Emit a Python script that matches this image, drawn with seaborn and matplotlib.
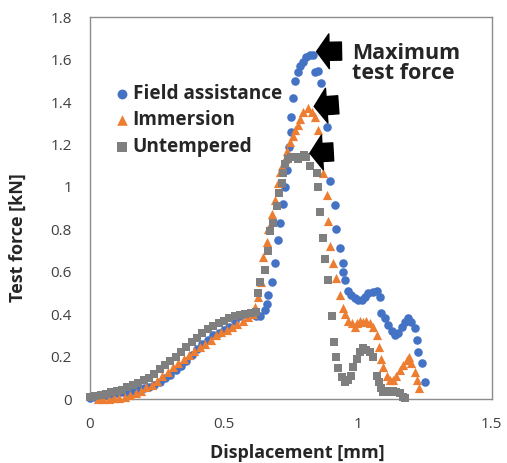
import matplotlib
matplotlib.use('Agg')
import matplotlib.pyplot as plt
import seaborn as sns
import pandas as pd

# ── data (displacement [mm], test force [kN]) ─────────────────────────────────
fa_x = [0.00, 0.02, 0.04, 0.06, 0.08, 0.10, 0.12, 0.14, 0.16, 0.18,
        0.20, 0.22, 0.24, 0.26, 0.28, 0.30, 0.32, 0.34, 0.36, 0.38,
        0.40, 0.42, 0.44, 0.46, 0.48, 0.50, 0.52, 0.54, 0.56, 0.58,
        0.60, 0.62,
        0.634, 0.653, 0.660, 0.664, 0.679, 0.690, 0.701, 0.709, 0.720, 0.728,
        0.734, 0.743, 0.749, 0.749, 0.759, 0.765, 0.776, 0.784, 0.795, 0.808,
        0.821, 0.831, 0.840, 0.851, 0.861, 0.883, 0.896, 0.914, 0.920, 0.933,
        0.943, 0.943, 0.951, 0.964, 0.976, 0.989, 1.001, 1.014, 1.026, 1.038,
        1.056, 1.070, 1.082, 1.088, 1.101, 1.113, 1.126, 1.138, 1.149, 1.163,
        1.175, 1.187, 1.200, 1.213, 1.219, 1.225, 1.238, 1.250]
fa_y = [0.005, 0.01, 0.015, 0.02, 0.025, 0.03, 0.035, 0.035, 0.04, 0.045,
        0.05, 0.055, 0.065, 0.08, 0.10, 0.115, 0.135, 0.155, 0.18, 0.21,
        0.235, 0.26, 0.28, 0.30, 0.31, 0.325, 0.34, 0.37, 0.39, 0.40,
        0.40, 0.39,
        0.39, 0.42, 0.45, 0.49, 0.55, 0.64, 0.75, 0.83, 0.92, 1.00,
        1.08, 1.19, 1.26, 1.33, 1.42, 1.50, 1.54, 1.57, 1.59, 1.61,
        1.62, 1.62, 1.54, 1.545, 1.49, 1.28, 1.03, 0.915, 0.80, 0.71,
        0.64, 0.60, 0.56, 0.51, 0.49, 0.475, 0.467, 0.467, 0.48, 0.50,
        0.505, 0.51, 0.48, 0.405, 0.38, 0.35, 0.32, 0.30, 0.31, 0.34,
        0.365, 0.38, 0.365, 0.335, 0.28, 0.22, 0.17, 0.08]

im_x = [0.03, 0.05, 0.07, 0.09, 0.11, 0.13, 0.15, 0.17, 0.19, 0.21,
        0.23, 0.25, 0.27, 0.29, 0.31, 0.33, 0.35, 0.37, 0.39, 0.41,
        0.43, 0.45, 0.47, 0.49, 0.51, 0.53, 0.55, 0.57, 0.59, 0.61,
        0.616, 0.627, 0.640, 0.647, 0.659, 0.665, 0.678, 0.690, 0.703, 0.709,
        0.715, 0.728, 0.734, 0.746, 0.759, 0.765, 0.777, 0.784, 0.796, 0.815,
        0.827, 0.840, 0.852, 0.871, 0.883, 0.889, 0.896, 0.908, 0.920, 0.933,
        0.946, 0.952, 0.965, 0.978, 0.989, 0.995, 1.007, 1.020, 1.032, 1.045,
        1.057, 1.070, 1.080, 1.086, 1.094, 1.107, 1.119, 1.132, 1.144, 1.157,
        1.169, 1.182, 1.191, 1.200, 1.213, 1.219, 1.229]
im_y = [0.0, 0.0, 0.0, 0.005, 0.005, 0.01, 0.02, 0.03, 0.04, 0.055,
        0.066, 0.085, 0.11, 0.13, 0.15, 0.17, 0.19, 0.21, 0.225, 0.245,
        0.26, 0.28, 0.30, 0.315, 0.325, 0.34, 0.355, 0.37, 0.385, 0.40,
        0.435, 0.48, 0.55, 0.67, 0.74, 0.80, 0.87, 0.94, 1.02, 1.07,
        1.10, 1.13, 1.17, 1.21, 1.24, 1.27, 1.29, 1.32, 1.355, 1.37,
        1.355, 1.33, 1.27, 1.065, 0.96, 0.84, 0.72, 0.64, 0.57, 0.49,
        0.43, 0.40, 0.37, 0.36, 0.34, 0.36, 0.37, 0.365, 0.37, 0.36,
        0.34, 0.30, 0.245, 0.19, 0.15, 0.11, 0.09, 0.09, 0.11, 0.135,
        0.16, 0.185, 0.20, 0.17, 0.13, 0.09, 0.05]

un_x = [0.00, 0.02, 0.04, 0.06, 0.08, 0.10, 0.12, 0.14, 0.16, 0.18,
        0.20, 0.22, 0.24, 0.26, 0.28, 0.30, 0.32, 0.34, 0.36, 0.38,
        0.40, 0.42, 0.44, 0.46, 0.48, 0.50, 0.52, 0.54, 0.56, 0.58,
        0.60, 0.62,
        0.627, 0.634, 0.653, 0.664, 0.672, 0.683, 0.698, 0.705, 0.716, 0.720,
        0.728, 0.740, 0.751, 0.765, 0.776, 0.787, 0.798, 0.806, 0.820, 0.847,
        0.852, 0.858, 0.871, 0.877, 0.889, 0.902, 0.910, 0.918, 0.926, 0.939,
        0.951, 0.964, 0.976, 0.983, 0.995, 1.007, 1.020, 1.032, 1.045, 1.057,
        1.070, 1.080, 1.088, 1.094, 1.107, 1.119, 1.132, 1.144, 1.157, 1.169,
        1.175]
un_y = [0.01, 0.015, 0.02, 0.025, 0.035, 0.04, 0.045, 0.055, 0.065, 0.075,
        0.09, 0.10, 0.12, 0.14, 0.16, 0.18, 0.20, 0.22, 0.245, 0.27,
        0.29, 0.31, 0.33, 0.345, 0.36, 0.37, 0.38, 0.39, 0.395, 0.40,
        0.405, 0.41,
        0.50, 0.55, 0.61, 0.70, 0.79, 0.83, 0.91, 0.97, 1.02, 1.065,
        1.11, 1.13, 1.14, 1.14, 1.13, 1.14, 1.15, 1.14, 1.10, 1.065,
        1.00, 0.88, 0.76, 0.66, 0.56, 0.39, 0.27, 0.20, 0.145, 0.105,
        0.08, 0.09, 0.11, 0.15, 0.19, 0.22, 0.24, 0.23, 0.22, 0.20,
        0.11, 0.08, 0.05, 0.035, 0.04, 0.035, 0.04, 0.035, 0.03, 0.01,
        0.005]

# arrow tips / tails at the three maxima
arrow_tips = [(0.846, 1.638), (0.837, 1.379), (0.821, 1.159)]
arrow_tails = [(0.939, 1.640), (0.927, 1.387), (0.908, 1.165)]

series = [
    ("Field assistance", fa_x, fa_y, "o", "#4472C4", 38),
    ("Immersion",        im_x, im_y, "^", "#ED7D31", 44),
    ("Untempered",       un_x, un_y, "s", "#7F7F7F", 34),
]

sns.set_style("white")
plt.rcParams['font.family'] = ['Open Sans', 'DejaVu Sans']

fig = plt.figure(figsize=(5.07, 4.63), dpi=100)
ax = fig.add_axes([0.1775, 0.138, 0.7925, 0.825])

for name, xs, ys, mk, col, sz in series:
    df = pd.DataFrame({"x": xs, "y": ys})
    sns.scatterplot(data=df, x="x", y="y", ax=ax, marker=mk, color=col,
                    s=sz, linewidth=0, label=name, clip_on=False, zorder=3)

for tip, tail in zip(arrow_tips, arrow_tails):
    ax.annotate("", xy=tip, xytext=tail,
                arrowprops=dict(facecolor="black", edgecolor="black",
                                width=13, headwidth=25, headlength=9, shrink=0),
                zorder=4)

ax.text(0.979, 1.583, "Maximum\ntest force", fontsize=15.5, fontweight="bold",
        va="center", ha="left", linespacing=0.95)

ax.set_xlim(0, 1.5)
ax.set_ylim(0, 1.8)
ax.set_xticks([0, 0.5, 1, 1.5])
ax.set_xticklabels(["0", "0.5", "1", "1.5"])
ax.set_yticks([0, 0.2, 0.4, 0.6, 0.8, 1, 1.2, 1.4, 1.6, 1.8])
ax.set_yticklabels(["0", "0.2", "0.4", "0.6", "0.8", "1", "1.2", "1.4", "1.6", "1.8"])

for sp in ax.spines.values():
    sp.set_color("#8c8c8c")
    sp.set_linewidth(1.0)
ax.tick_params(axis="y", direction="out", length=5.5, color="#8c8c8c",
               labelsize=11, labelcolor="#404040", pad=7.5)
ax.tick_params(axis="x", direction="in", length=4, color="#8c8c8c",
               labelsize=11, labelcolor="#404040", pad=13)

ax.set_xlabel("Displacement [mm]", fontsize=13, fontweight="bold")
ax.set_ylabel("Test force [kN]", fontsize=13, fontweight="bold")
ax.xaxis.set_label_coords(0.515, -0.118)
ax.yaxis.set_label_coords(-0.157, 0.424)

leg = ax.legend(loc="upper left", bbox_to_anchor=(0.0515, 0.825), frameon=False,
                prop={"size": 13.7, "weight": "bold"}, handletextpad=0.0,
                labelspacing=0.33, borderpad=0, borderaxespad=0,
                handlelength=1.15, markerscale=1.15)

fig.savefig("out.png", dpi=100)
